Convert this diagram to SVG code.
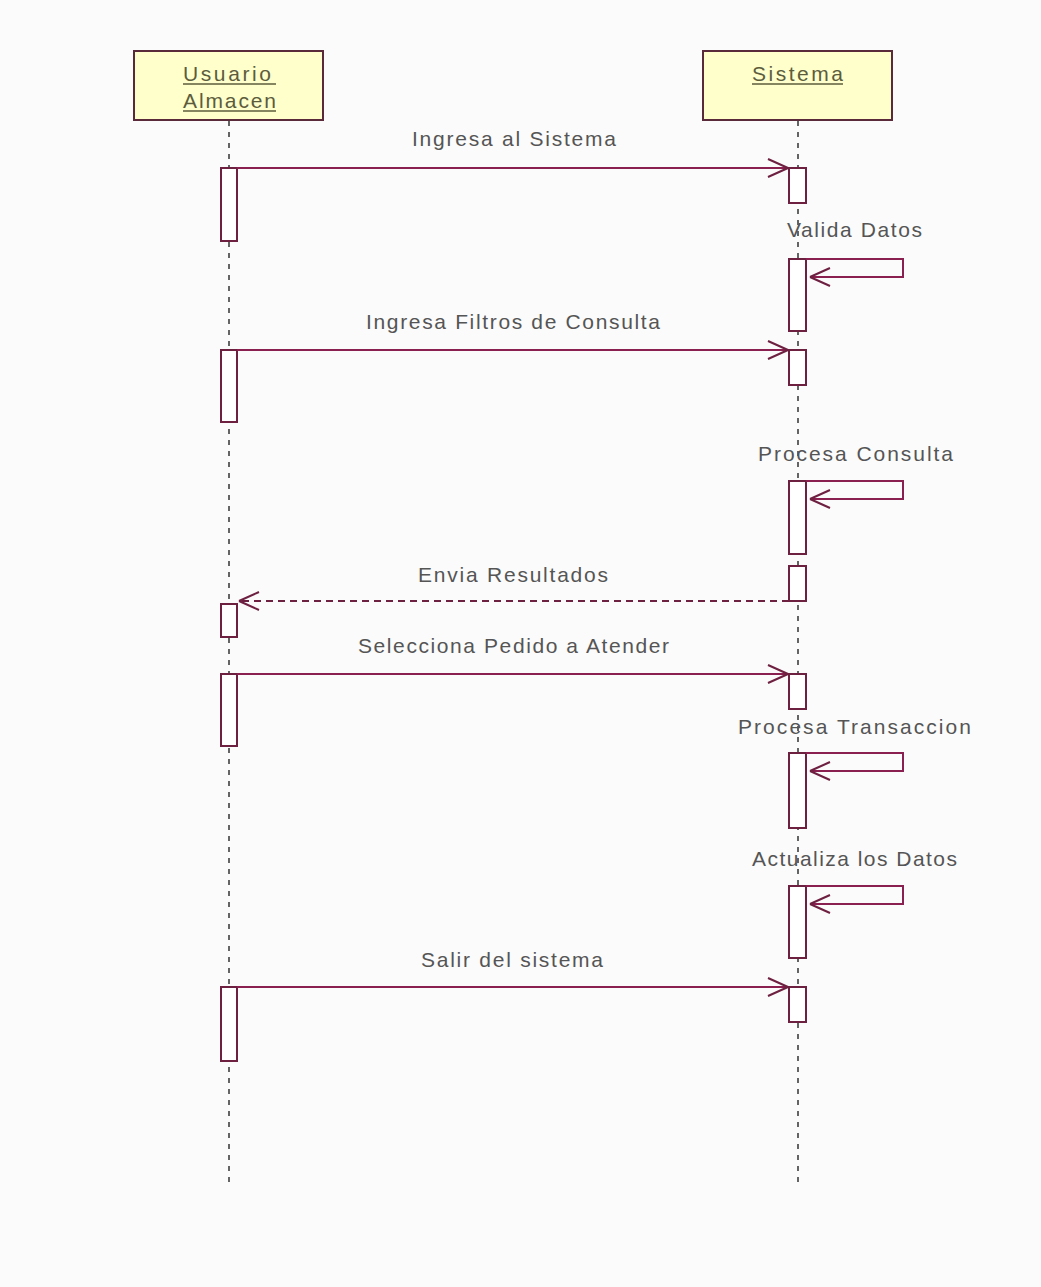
<svg xmlns="http://www.w3.org/2000/svg" width="1041" height="1287" viewBox="0 0 1041 1287">
  <style>
    .obj { fill: #ffffcc; stroke: #5a2a3a; stroke-width: 2; }
    .objtxt { font-family: "Liberation Sans", Arial, sans-serif; font-size: 21px; fill: #5c5c3c; }
    .uline { stroke: #5c5c3c; stroke-width: 1.5; }
    .life { stroke: #333333; stroke-width: 1.5; stroke-dasharray: 5 6; fill: none; }
    .act { fill: #ffffff; stroke: #6e2040; stroke-width: 2; }
    .msg { stroke: #8a2050; stroke-width: 2; fill: none; }
    .ret { stroke: #6e2040; stroke-width: 2; fill: none; stroke-dasharray: 7 5; }
    .lbl { font-family: "Liberation Sans", Arial, sans-serif; font-size: 21px; fill: #555555; }
  </style>
  <defs>
    <marker id="open" viewBox="-22 -11 24 22" refX="0" refY="0" markerWidth="24" markerHeight="22" markerUnits="userSpaceOnUse" orient="auto">
      <path d="M0,0 L-20,-9 M0,0 L-20,9" stroke="#6e2040" stroke-width="2" fill="none"/>
    </marker>
  </defs>
  <rect width="1041" height="1287" fill="#fbfbfb"/>

  <!-- lifelines -->
  <g id="lifelines">
    <line class="life" x1="229" y1="121" x2="229" y2="1183"/>
    <line class="life" x1="798" y1="121" x2="798" y2="1183"/>
  </g>

  <!-- participants -->
  <g id="usuario">
    <rect class="obj" x="134" y="51" width="189" height="69"/>
    <text class="objtxt" x="183" y="81" textLength="88">Usuario</text>
    <line class="uline" x1="183" y1="84" x2="276" y2="84"/>
    <text class="objtxt" x="183" y="108" textLength="93">Almacen</text>
    <line class="uline" x1="183" y1="111" x2="276" y2="111"/>
  </g>
  <g id="sistema">
    <rect class="obj" x="703" y="51" width="189" height="69"/>
    <text class="objtxt" x="752" y="81" textLength="91">Sistema</text>
    <line class="uline" x1="752" y1="84" x2="843" y2="84"/>
  </g>

  <!-- activation bars -->
  <g id="activations">
    <rect class="act" x="221" y="168" width="16" height="73"/>
    <rect class="act" x="789" y="168" width="17" height="35"/>
    <rect class="act" x="789" y="259" width="17" height="72"/>
    <rect class="act" x="221" y="350" width="16" height="72"/>
    <rect class="act" x="789" y="350" width="17" height="35"/>
    <rect class="act" x="789" y="481" width="17" height="73"/>
    <rect class="act" x="789" y="566" width="17" height="35"/>
    <rect class="act" x="221" y="604" width="16" height="33"/>
    <rect class="act" x="221" y="674" width="16" height="72"/>
    <rect class="act" x="789" y="674" width="17" height="35"/>
    <rect class="act" x="789" y="753" width="17" height="75"/>
    <rect class="act" x="789" y="886" width="17" height="72"/>
    <rect class="act" x="221" y="987" width="16" height="74"/>
    <rect class="act" x="789" y="987" width="17" height="35"/>
  </g>

  <!-- messages -->
  <g id="connectors">
    <line class="msg" x1="237" y1="168" x2="788" y2="168" marker-end="url(#open)"/>
    <path class="msg" d="M806,259 H903 V277 H810" marker-end="url(#open)"/>
    <line class="msg" x1="237" y1="350" x2="788" y2="350" marker-end="url(#open)"/>
    <path class="msg" d="M806,481 H903 V499 H810" marker-end="url(#open)"/>
    <line class="ret" x1="789" y1="601" x2="239" y2="601" marker-end="url(#open)"/>
    <line class="msg" x1="237" y1="674" x2="788" y2="674" marker-end="url(#open)"/>
    <path class="msg" d="M806,753 H903 V771 H810" marker-end="url(#open)"/>
    <path class="msg" d="M806,886 H903 V904 H810" marker-end="url(#open)"/>
    <line class="msg" x1="237" y1="987" x2="788" y2="987" marker-end="url(#open)"/>
  </g>

  <!-- message labels -->
  <g id="labels">
    <text class="lbl" x="412" y="146" textLength="204">Ingresa al Sistema</text>
    <text class="lbl" x="787" y="237" textLength="135">Valida Datos</text>
    <text class="lbl" x="366" y="329" textLength="294">Ingresa Filtros de Consulta</text>
    <text class="lbl" x="758" y="461" textLength="195">Procesa Consulta</text>
    <text class="lbl" x="418" y="582" textLength="190">Envia Resultados</text>
    <text class="lbl" x="358" y="653" textLength="311">Selecciona Pedido a Atender</text>
    <text class="lbl" x="738" y="734" textLength="233">Procesa Transaccion</text>
    <text class="lbl" x="752" y="866" textLength="205">Actualiza los Datos</text>
    <text class="lbl" x="421" y="967" textLength="182">Salir del sistema</text>
  </g>
</svg>
